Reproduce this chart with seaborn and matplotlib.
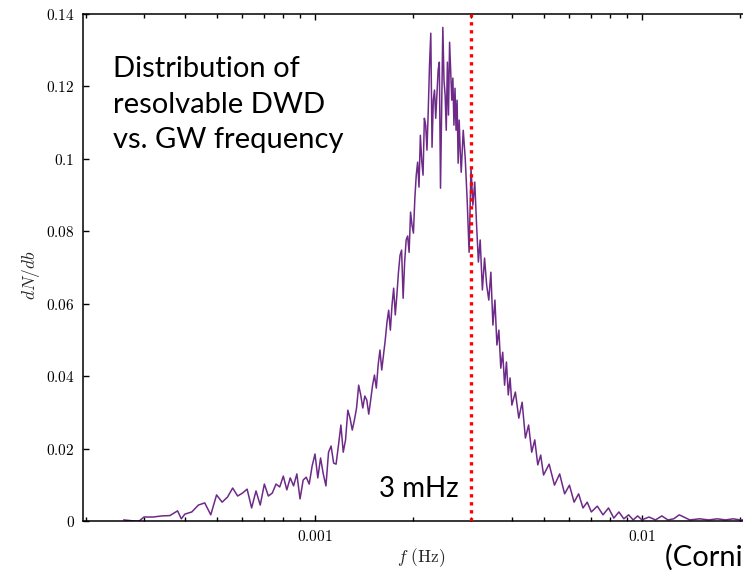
import numpy as np
import pandas as pd
import matplotlib
matplotlib.use("Agg")
import matplotlib.pyplot as plt
import seaborn as sns
from matplotlib.ticker import FixedLocator, FixedFormatter, LogLocator, NullFormatter

# GW frequency (mHz) and dN/db
freq_mhz = [
    0.26, 0.28, 0.29, 0.30, 0.32, 0.34, 0.36, 0.38, 0.39, 0.40,
    0.42, 0.44, 0.46, 0.48, 0.50, 0.52, 0.54, 0.56, 0.58, 0.60,
    0.62, 0.64, 0.66, 0.68, 0.70, 0.72, 0.74, 0.76, 0.78, 0.80,
    0.82, 0.84, 0.86, 0.88, 0.90, 0.92, 0.94, 0.96, 0.98, 1.00,
    1.02, 1.04, 1.06, 1.08, 1.10, 1.12, 1.14, 1.16, 1.18, 1.20,
    1.22, 1.24, 1.26, 1.28, 1.30, 1.32, 1.34, 1.36, 1.38, 1.40,
    1.42, 1.44, 1.46, 1.48, 1.50, 1.52, 1.54, 1.56, 1.58, 1.60,
    1.62, 1.64, 1.66, 1.68, 1.70, 1.72, 1.74, 1.76, 1.78, 1.80,
    1.82, 1.84, 1.86, 1.88, 1.90, 1.92, 1.94, 1.96, 1.98, 2.00,
    2.02, 2.04, 2.06, 2.08, 2.10, 2.12, 2.14, 2.16, 2.18, 2.20,
    2.22, 2.24, 2.26, 2.28, 2.30, 2.32, 2.34, 2.36, 2.38, 2.40,
    2.42, 2.44, 2.46, 2.48, 2.50, 2.52, 2.54, 2.56, 2.58, 2.60,
    2.62, 2.64, 2.66, 2.68, 2.70, 2.72, 2.74, 2.76, 2.78, 2.80,
    2.84, 2.88, 2.92, 2.96, 3.00, 3.04, 3.08, 3.12, 3.16, 3.20,
    3.25, 3.30, 3.35, 3.40, 3.45, 3.50, 3.55, 3.60, 3.65, 3.70,
    3.75, 3.80, 3.85, 3.90, 3.95, 4.0, 4.1, 4.2, 4.3, 4.4,
    4.5, 4.6, 4.7, 4.8, 4.9, 5.0, 5.2, 5.4, 5.6, 5.8,
    6.0, 6.2, 6.4, 6.6, 6.8, 7.0, 7.3, 7.6, 7.9, 8.2,
    8.5, 8.8, 9.1, 9.4, 9.7, 10.0, 10.5, 11.0, 11.5, 12.0,
    12.5, 13.0, 14.0, 15.0, 16.0, 17.0, 18.0, 19.0, 20.0, 21.0,
]
dn_db = [
    0.0003, 0.0000, 0.0000, 0.0011, 0.0011, 0.0014, 0.0015, 0.0028, 0.0006, 0.0019,
    0.0025, 0.0044, 0.0050, 0.0017, 0.0072, 0.0052, 0.0066, 0.0091, 0.0069, 0.0077,
    0.0088, 0.0036, 0.0083, 0.0044, 0.0102, 0.0069, 0.0077, 0.0102, 0.0094, 0.0124,
    0.0086, 0.0119, 0.0097, 0.0130, 0.0061, 0.0113, 0.0121, 0.0102, 0.0152, 0.0185,
    0.0119, 0.0174, 0.0130, 0.0097, 0.0190, 0.0207, 0.0160, 0.0157, 0.0210, 0.0265,
    0.0190, 0.0224, 0.0306, 0.0284, 0.0251, 0.0279, 0.0312, 0.0375, 0.0348, 0.0312,
    0.0345, 0.0334, 0.0295, 0.0334, 0.0375, 0.0403, 0.0367, 0.0431, 0.0472, 0.0417,
    0.0458, 0.0500, 0.0549, 0.0582, 0.0527, 0.0596, 0.0643, 0.0569, 0.0624, 0.0687,
    0.0734, 0.0748, 0.0615, 0.0715, 0.0776, 0.0787, 0.0742, 0.0853, 0.0817, 0.0795,
    0.0891, 0.0955, 0.0991, 0.0922, 0.1065, 0.0996, 0.0955, 0.1112, 0.1093, 0.1024,
    0.1134, 0.1259, 0.1347, 0.1032, 0.1162, 0.1190, 0.1112, 0.1176, 0.1245, 0.1267,
    0.0919, 0.1134, 0.1363, 0.1217, 0.1176, 0.1079, 0.1267, 0.1121, 0.1322, 0.1245,
    0.1162, 0.1223, 0.1093, 0.1195, 0.1079, 0.1162, 0.0988, 0.1107, 0.1024, 0.0963,
    0.1079, 0.1002, 0.0886, 0.0742, 0.0974, 0.0872, 0.0936, 0.0817, 0.0715, 0.0776,
    0.0638, 0.0726, 0.0651, 0.0610, 0.0687, 0.0541, 0.0610, 0.0486, 0.0527, 0.0422,
    0.0466, 0.0375, 0.0439, 0.0348, 0.0395, 0.0320, 0.0356, 0.0284, 0.0328, 0.0229,
    0.0265, 0.0190, 0.0224, 0.0155, 0.0182, 0.0127, 0.0157, 0.0099, 0.0130, 0.0075,
    0.0099, 0.0052, 0.0075, 0.0036, 0.0052, 0.0025, 0.0041, 0.0017, 0.0036, 0.0008,
    0.0025, 0.0006, 0.0017, 0.0003, 0.0014, 0.0003, 0.0011, 0.0003, 0.0014, 0.0003,
    0.0006, 0.0017, 0.0003, 0.0006, 0.0003, 0.0006, 0.0003, 0.0006, 0.0003, 0.0003,
]
assert len(freq_mhz) == len(dn_db)

y_ticks = [0, 0.02, 0.04, 0.06, 0.08, 0.10, 0.12, 0.14]
y_tick_labels = ["0", "0.02", "0.04", "0.06", "0.08", "0.1", "0.12", "0.14"]
x_ticks = [0.001, 0.01]
x_tick_labels = ["0.001", "0.01"]
marker_freq = 0.003

sns.set_style("ticks")
plt.rcParams["mathtext.fontset"] = "cm"
plt.rcParams["font.family"] = ["Lato", "DejaVu Sans"]

W, H = 743, 570
fig = plt.figure(figsize=(W / 100, H / 100), dpi=100)
ax = fig.add_axes([83 / W, 49 / H, 715 / W, 507 / H])

df = pd.DataFrame({"f": np.array(freq_mhz) * 1e-3, "dNdb": dn_db})
sns.lineplot(data=df, x="f", y="dNdb", ax=ax, color="#6e2a88", lw=1.1,
             estimator=None, sort=False)

ax.set_xscale("log")
ax.set_xlim(1.952e-4, 0.03)
ax.set_ylim(0, 0.14)

ax.axvline(marker_freq, color="#ff0000", lw=2.4, ls=(0, (1, 1.4)), zorder=3)

ax.yaxis.set_major_locator(FixedLocator(y_ticks))
ax.yaxis.set_major_formatter(FixedFormatter([f"${t}$" for t in y_tick_labels]))
ax.xaxis.set_major_locator(FixedLocator(x_ticks))
ax.xaxis.set_major_formatter(FixedFormatter([f"${t}$" for t in x_tick_labels]))
ax.xaxis.set_minor_locator(LogLocator(base=10, subs=np.arange(2, 10)))
ax.xaxis.set_minor_formatter(NullFormatter())

ax.tick_params(which="both", direction="in", top=True, right=True,
               width=1.0, colors="black", labelsize=11)
ax.tick_params(which="major", length=4.5, pad=6)
ax.tick_params(which="minor", length=3)
for s in ax.spines.values():
    s.set_linewidth(1.1)
    s.set_color("black")

ax.set_xlabel(r"$f\ \mathrm{(Hz)}$", fontsize=12.5)
ax.set_ylabel(r"$dN/db$", fontsize=12.5)
ax.xaxis.set_label_coords((421 - 83) / 715, -(546 - 521) / 507)
ax.yaxis.set_label_coords(-(83 - 42) / 715, (521 - 275) / 507)

fig.text(113 / W, 1 - 56 / H, "Distribution of\nresolvable DWD\nvs. GW frequency",
         ha="left", va="top", fontsize=21, linespacing=1.46, color="black")
fig.text(459 / W, 1 - 497 / H, "3 mHz", ha="right", va="baseline",
         fontsize=20, color="black")
fig.text(665 / W, 1 - 566 / H, "(Cornish & Robson 2017)", ha="left",
         va="baseline", fontsize=21, color="black")

fig.savefig("out.png", dpi=100)
